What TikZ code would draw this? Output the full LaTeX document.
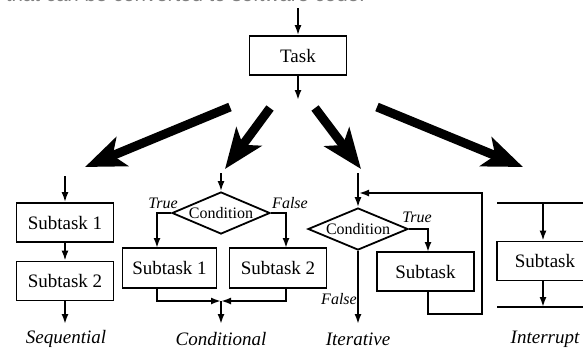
\documentclass[tikz,border=0pt]{standalone}
\usepackage{fontspec}
\setmainfont{Liberation Serif}
\setsansfont{Liberation Sans}
\usetikzlibrary{arrows.meta,shapes.geometric}

\begin{document}
\begin{tikzpicture}[x=1pt, y=-1pt, line width=1.8pt,
  every node/.style={font=\fontsize{19}{22}\selectfont},
  >={Latex[length=10pt,width=7pt]},
  box/.style={draw, minimum width=97pt, minimum height=39pt, inner sep=0pt},
  cond/.style={draw, diamond, aspect=2.3, inner sep=0pt, minimum width=98pt, minimum height=42pt, font=\fontsize{16}{19}\selectfont},
  tf/.style={font=\fontsize{16}{19}\selectfont\itshape},
  kind/.style={font=\fontsize{19}{22}\selectfont\itshape},
  big/.style={line width=9pt, -{Stealth[length=40pt,width=31pt,inset=10pt]}}]
	\useasboundingbox (0,0) rectangle (583,349);
	\clip (0,0) rectangle (583,349);
	\node[anchor=base west, inner sep=0pt, text=gray, font=\sffamily\fontsize{20.5}{24}\selectfont] (cap) at (5,1.5) {that can be converted to software code.};
	% task on top
	\node[box] (task) at (298,55.5) {Task};
	\coordinate (tin) at (298,8);
	\coordinate (tout) at (298,100);
	\draw[->] (tin) -- (task);
	\draw[->] (task) -- (tout);
	% the four big arrows
	\coordinate (b1s) at (230,107); \coordinate (b1e) at (85,167);
	\coordinate (b2s) at (270,108); \coordinate (b2e) at (225,169);
	\coordinate (b3s) at (315,108); \coordinate (b3e) at (361,169);
	\coordinate (b4s) at (377,107); \coordinate (b4e) at (523,167);
	\draw[big] (b1s) -- (b1e);
	\draw[big] (b2s) -- (b2e);
	\draw[big] (b3s) -- (b3e);
	\draw[big] (b4s) -- (b4e);
	% sequential
	\coordinate (sin) at (65,176);
	\node[box] (ssub1) at (65,222.5) {Subtask 1};
	\node[box] (ssub2) at (65,281) {Subtask 2};
	\coordinate (sout) at (65,324);
	\draw[->] (sin) -- (ssub1);
	\draw[->] (ssub1) -- (ssub2);
	\draw[->] (ssub2) -- (sout);
	\node[kind] (seq) at (66,339) {Sequential};
	% conditional
	\coordinate (cin) at (221,173);
	\node[cond] (cond1) at (221,213) {Condition};
	\node[box, minimum width=94pt, minimum height=40pt] (csub1) at (169.5,268) {Subtask 1};
	\node[box, minimum width=97pt, minimum height=40pt] (csub2) at (278,268) {Subtask 2};
	\coordinate (ct) at (157,248);
	\coordinate (cf) at (286,248);
	\coordinate (cm) at (221,301);
	\coordinate (cout) at (221,324);
	\draw[->] (cin) -- (cond1);
	\draw[->] (cond1.west) -| (ct);
	\draw[->] (cond1.east) -| (cf);
	\draw[->] (csub1.south -| ct) |- (cm);
	\draw[->] (csub2.south -| cf) |- (cm);
	\draw[->] (cm) -- (cout);
	\node[tf] (ctrue) at (163,203) {True};
	\node[tf] (cfalse) at (290,203) {False};
	\node[kind] (cnd) at (221,339) {Conditional};
	% iterative
	\coordinate (iin) at (358,173);
	\node[cond, minimum width=100pt] (cond2) at (358,229) {Condition};
	\node[box] (isub) at (425.5,271.5) {Subtask};
	\coordinate (ix) at (428,252);
	\coordinate (lr) at (482,314);
	\coordinate (ltip) at (359,193);
	\coordinate (iout) at (358,324);
	\draw[->] (iin) -- (cond2);
	\draw[->] (cond2.east) -| (ix);
	\draw[->] (isub.south -| ix) |- (lr) |- (ltip);
	\draw[->] (cond2.south) -- (iout);
	\node[tf] (itrue) at (417,217) {True};
	\node[tf] (ifalse) at (339,299) {False};
	\node[kind] (itr) at (358,339) {Iterative};
	% interrupt
	\coordinate (ia) at (543,203);
	\coordinate (ib) at (543,307);
	\coordinate (ial) at (497,203); \coordinate (iar) at (583,203);
	\coordinate (ibl) at (497,307); \coordinate (ibr) at (583,307);
	\node[box, minimum width=96pt] (int) at (545,261) {Subtask};
	\draw (ial) -- (iar);
	\draw (ibl) -- (ibr);
	\draw[->] (ia) -- (int.north -| ia);
	\draw[->] (int.south -| ia) -- (ib);
	\node[kind] (intr) at (545,339) {Interrupt};
\end{tikzpicture}
\end{document}
